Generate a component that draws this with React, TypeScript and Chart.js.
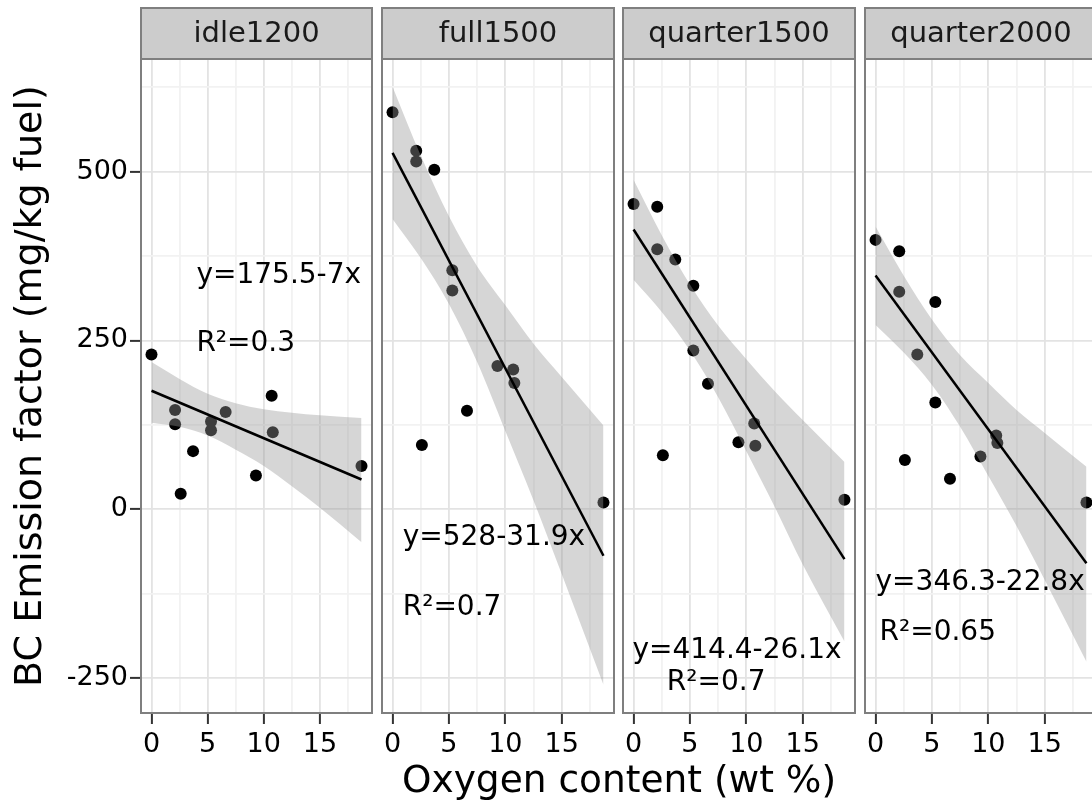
import React, { useEffect, useRef } from "react";
import { Chart, registerables } from "chart.js";

Chart.register(...registerables);

const FONT = "'DejaVu Sans', 'Liberation Sans', sans-serif";

// ---- data ----
const facetNames = ["idle1200", "full1500", "quarter1500", "quarter2000"];
const oxygen = [0, 2.1, 2.1, 2.6, 3.7, 5.3, 5.3, 6.6, 9.3, 10.7, 10.8, 18.7];
const bcIdle1200 = [229, 147, 126, 23, 86, 130, 117, 144, 50, 168, 114, 64];
const bcFull1500 = [588, 531, 515, 95, 503, 354, 324, 146, 212, 207, 187, 10];
const bcQuarter1500 = [452, 448, 385, 80, 370, 331, 235, 186, 99, 127, 94, 14];
const bcQuarter2000 = [399, 382, 322, 73, 229, 307, 158, 45, 78, 109, 98, 10];

const fitX = [0, 18.7];
const fitIdle1200 = [175.5, 44];
const fitFull1500 = [528, -69];
const fitQuarter1500 = [414.4, -74];
const fitQuarter2000 = [346.3, -80];

const bandX = [0, 2.5, 5, 7.5, 10, 12.5, 15, 18.7];
const bandUpperIdle1200 = [218, 193, 171, 157, 148, 143, 139, 135];
const bandLowerIdle1200 = [128, 122, 109, 88, 64, 34, 2, -49];
const bandUpperFull1500 = [626, 524, 434, 360, 302, 245, 196, 124];
const bandLowerFull1500 = [430, 372, 304, 218, 116, 13, -96, -260];
const bandUpperQuarter1500 = [488, 406, 333, 272, 222, 175, 132, 70];
const bandLowerQuarter1500 = [340, 292, 235, 166, 86, 4, -82, -196];
const bandUpperQuarter2000 = [419, 346, 281, 228, 187, 147, 113, 63];
const bandLowerQuarter2000 = [273, 232, 184, 122, 49, -25, -105, -226];

const equationTexts = ["y=175.5-7x", "y=528-31.9x", "y=414.4-26.1x", "y=346.3-22.8x"];
const r2Texts = ["R\u00B2=0.3", "R\u00B2=0.7", "R\u00B2=0.7", "R\u00B2=0.65"];
// label anchors in data units (left edge x, baseline y)
const equationAnchorX = [4.0, 0.9, -0.1, 0.0];
const equationAnchorY = [335, -53, -221, -120];
const r2AnchorX = [4.0, 0.9, 2.95, 0.35];
const r2AnchorY = [234, -157, -268, -194];

const xTickLabels = [0, 5, 10, 15];
const yTickLabels = [-250, 0, 250, 500];
const xMin = -0.935;
const xMax = 19.635;
const yMin = -302;
const yMax = 667;

const xTitle = "Oxygen content (wt %)";
const yTitle = "BC Emission factor (mg/kg fuel)";

const bcSeries = [bcIdle1200, bcFull1500, bcQuarter1500, bcQuarter2000];
const fitSeries = [fitIdle1200, fitFull1500, fitQuarter1500, fitQuarter2000];
const bandUpper = [bandUpperIdle1200, bandUpperFull1500, bandUpperQuarter1500, bandUpperQuarter2000];
const bandLower = [bandLowerIdle1200, bandLowerFull1500, bandLowerQuarter1500, bandLowerQuarter2000];

// ---- layout ----
const H = 811;
const STRIP_TOP = 8;
const SIDE = 6;
const panels = [
  { left: 0, width: 141 + 231 + SIDE, axisWidth: 141, padLeft: 0 },
  { left: 382 - SIDE, width: 232 + 2 * SIDE, axisWidth: 0, padLeft: SIDE },
  { left: 623 - SIDE, width: 232 + 2 * SIDE, axisWidth: 0, padLeft: SIDE },
  { left: 865 - SIDE, width: 232 + 2 * SIDE, axisWidth: 0, padLeft: SIDE },
];

const stripAndBorder = {
  id: "stripAndBorder",
  beforeDraw(chart: any) {
    const { ctx, chartArea } = chart;
    ctx.save();
    ctx.fillStyle = "#CCCCCC";
    ctx.fillRect(chartArea.left, STRIP_TOP, chartArea.right - chartArea.left, chartArea.top - STRIP_TOP);
    ctx.strokeStyle = "#7F7F7F";
    ctx.lineWidth = 2;
    ctx.strokeRect(chartArea.left, STRIP_TOP, chartArea.right - chartArea.left, chartArea.top - STRIP_TOP);
    ctx.restore();
  },
  afterDraw(chart: any) {
    const { ctx, chartArea } = chart;
    ctx.save();
    ctx.strokeStyle = "#7F7F7F";
    ctx.lineWidth = 2;
    ctx.strokeRect(chartArea.left, chartArea.top, chartArea.right - chartArea.left, chartArea.bottom - chartArea.top);
    ctx.restore();
  },
};

const fitLabels = {
  id: "fitLabels",
  afterDatasetsDraw(chart: any, _args: any, opts: any) {
    const { ctx } = chart;
    const xs = chart.scales.x;
    const ys = chart.scales.y;
    ctx.save();
    ctx.font = `28px ${FONT}`;
    ctx.fillStyle = "#000000";
    ctx.textAlign = "left";
    ctx.textBaseline = "alphabetic";
    for (const item of opts.items || []) {
      ctx.fillText(item.text, xs.getPixelForValue(item.x), ys.getPixelForValue(item.y));
    }
    ctx.restore();
  },
};

const isMajorX = (v: number) => xTickLabels.some((t) => Math.abs(t - v) < 1e-6);
const isMajorY = (v: number) => yTickLabels.some((t) => Math.abs(t - v) < 1e-6);

function Panel({ index }: { index: number }) {
  const ref = useRef<HTMLCanvasElement>(null);
  const p = panels[index];
  useEffect(() => {
    const canvas = ref.current as HTMLCanvasElement;
    const first = index === 0;
    const points = oxygen.map((x, i) => ({ x, y: bcSeries[index][i] }));
    const fit = fitX.map((x, i) => ({ x, y: fitSeries[index][i] }));
    const up = bandX.map((x, i) => ({ x, y: bandUpper[index][i] }));
    const lo = bandX.map((x, i) => ({ x, y: bandLower[index][i] }));
    const chart = new Chart(canvas, {
      type: "line",
      data: {
        datasets: [
          {
            data: fit,
            order: 0,
            borderColor: "#000000",
            borderWidth: 2.5,
            pointRadius: 0,
            fill: false,
            tension: 0,
          },
          {
            data: up,
            order: 1,
            borderColor: "rgba(0,0,0,0)",
            borderWidth: 0,
            pointRadius: 0,
            backgroundColor: "rgba(153,153,153,0.4)",
            fill: "+1",
            cubicInterpolationMode: "monotone",
          },
          {
            data: lo,
            order: 2,
            borderColor: "rgba(0,0,0,0)",
            borderWidth: 0,
            pointRadius: 0,
            fill: false,
            cubicInterpolationMode: "monotone",
          },
          {
            data: points,
            order: 3,
            showLine: false,
            pointRadius: 6,
            pointHoverRadius: 6,
            pointBackgroundColor: "#000000",
            pointBorderWidth: 0,
            pointBorderColor: "#000000",
          },
        ],
      },
      options: {
        responsive: false,
        animation: false,
        events: [],
        layout: { padding: { top: STRIP_TOP, left: p.padLeft, right: SIDE, bottom: 0 } },
        scales: {
          x: {
            type: "linear",
            min: xMin,
            max: xMax,
            afterFit: (s: any) => {
              s.height = H - 713;
            },
            border: { display: false },
            grid: {
              color: (c: any) => (isMajorX(c.tick.value) ? "#E3E3E3" : "#F2F2F2"),
              lineWidth: 1.8,
              drawTicks: true,
              tickLength: 11,
              tickWidth: 2,
              tickColor: (c: any) => (isMajorX(c.tick.value) ? "#333333" : "rgba(0,0,0,0)"),
            },
            ticks: {
              stepSize: 2.5,
              includeBounds: false,
              autoSkip: false,
              maxRotation: 0,
              padding: 5,
              color: "#000000",
              font: { family: FONT, size: 27 },
              callback: (v: any) => (isMajorX(Number(v)) ? String(v) : ""),
            },
          },
          y: {
            type: "linear",
            min: yMin,
            max: yMax,
            afterFit: (s: any) => {
              s.width = p.axisWidth;
            },
            border: { display: false },
            title: {
              display: first,
              text: yTitle,
              color: "#000000",
              font: { family: FONT, size: 38 },
              padding: { top: 8.4, bottom: 0 },
            },
            grid: {
              color: (c: any) => (isMajorY(c.tick.value) ? "#E3E3E3" : "#F2F2F2"),
              lineWidth: 1.8,
              drawTicks: first,
              tickLength: 11,
              tickWidth: 2,
              tickColor: (c: any) => (isMajorY(c.tick.value) ? "#333333" : "rgba(0,0,0,0)"),
            },
            ticks: {
              display: first,
              stepSize: 125,
              includeBounds: false,
              autoSkip: false,
              padding: 2,
              color: "#000000",
              font: { family: FONT, size: 27 },
              callback: (v: any) => (isMajorY(Number(v)) ? String(v) : ""),
            },
          },
        },
        plugins: {
          legend: { display: false },
          tooltip: { enabled: false },
          title: {
            display: true,
            text: facetNames[index],
            fullSize: false,
            color: "#1A1A1A",
            font: { family: FONT, size: 29, weight: "normal" },
            padding: { top: 9, bottom: 7.2 },
          },
          fitLabels: {
            items: [
              { text: equationTexts[index], x: equationAnchorX[index], y: equationAnchorY[index] },
              { text: r2Texts[index], x: r2AnchorX[index], y: r2AnchorY[index] },
            ],
          },
        } as any,
      },
      plugins: [stripAndBorder, fitLabels],
    } as any);
    return () => chart.destroy();
  }, [index]);
  return (
    <canvas
      ref={ref}
      width={p.width}
      height={H}
      style={{ position: "absolute", left: p.left, top: 0, width: p.width, height: H }}
    />
  );
}

export default function App() {
  return (
    <div
      style={{
        position: "fixed",
        left: 0,
        top: 0,
        width: 1092,
        height: H,
        overflow: "hidden",
        background: "#ffffff",
      }}
    >
      {facetNames.map((_, i) => (
        <Panel key={i} index={i} />
      ))}
      <div
        style={{
          position: "absolute",
          left: 319,
          width: 600,
          top: 761,
          textAlign: "center",
          fontFamily: FONT,
          fontSize: 37.5,
          lineHeight: 1,
          color: "#000000",
          whiteSpace: "nowrap",
        }}
      >
        {xTitle}
      </div>
    </div>
  );
}
